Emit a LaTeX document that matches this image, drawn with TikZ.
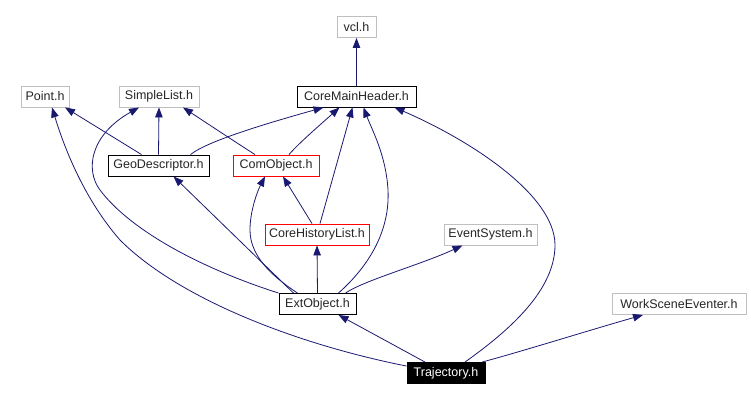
\documentclass[tikz,border=0pt]{standalone}
\usepackage{fontspec}
\setmainfont{Liberation Sans}
\usetikzlibrary{arrows.meta}
\definecolor{edgeblue}{HTML}{191970}
\definecolor{boxgray}{HTML}{BFBFBF}
\begin{document}
\begin{tikzpicture}[x=1pt,y=-1pt,
  box/.style={draw=black,line width=0.9pt,fill=white,inner sep=0pt,minimum height=21pt,
    font=\fontsize{12.5}{14}\selectfont,text=black!85},
  graybox/.style={box,draw=boxgray},
  redbox/.style={box,draw=red},
  blackbox/.style={box,fill=black,text=white},
  edge/.style={draw=edgeblue,line width=0.8pt,-{Triangle[length=10pt,width=7.5pt]}}]
\useasboundingbox (0,0) rectangle (751,401);
% nodes
\node[graybox,minimum width=39pt] (vcl) at (356.5,27) {vcl.h};
\node[graybox,minimum width=48pt] (point) at (45,96.5) {Point.h};
\node[graybox,minimum width=80pt] (sl) at (159,96.5) {SimpleList.h};
\node[box,minimum width=119pt] (cmh) at (356.5,96.5) {CoreMainHeader.h};
\node[box,minimum width=101pt] (geo) at (158.5,165.5) {GeoDescriptor.h};
\node[redbox,minimum width=86pt] (com) at (276,165.5) {ComObject.h};
\node[redbox,minimum width=104pt] (chl) at (317,234.5) {CoreHistoryList.h};
\node[graybox,minimum width=93pt] (es) at (490.5,234.5) {EventSystem.h};
\node[box,minimum width=77pt] (ext) at (317.5,304) {ExtObject.h};
\node[graybox,minimum width=134pt] (wse) at (679,304) {WorkSceneEventer.h};
\node[blackbox,minimum width=78pt] (traj) at (446,373) {Trajectory.h};
% edges
\draw[edge] (cmh.north) -- (vcl.south);
\draw[edge] ([xshift=-17pt]geo.north) -- ([xshift=20pt]point.south);
\draw[edge] (geo.north) -- (sl.south);
\draw[edge] ([xshift=32pt]geo.north) .. controls (205,143) and (250,128) .. ([xshift=-33pt]cmh.south);
\draw[edge] ([xshift=-21pt]com.north) .. controls (240,145) and (205,122) .. ([xshift=24pt]sl.south);
\draw[edge] ([xshift=13pt]com.north) .. controls (300,142) and (320,125) .. ([xshift=-17pt]cmh.south);
\draw[edge] ([xshift=-5pt]chl.north) -- ([xshift=7pt]com.south);
\draw[edge] ([xshift=3pt]chl.north) -- ([xshift=-4pt]cmh.south);
\draw[edge] (ext.north) -- (chl.south);
\draw[edge] ([xshift=-20pt]ext.north) .. controls (270,275) and (250,255) .. (250,230) .. controls (250,210) and (258,190) .. ([xshift=-11pt]com.south);
\draw[edge] ([xshift=-24pt]ext.north) -- ([xshift=15pt]geo.south);
\draw[edge] (ext.north west) .. controls (200,268) and (130,230) .. (100,190) .. controls (85,170) and (90,135) .. ([xshift=-20pt]sl.south);
\draw[edge] ([xshift=21pt]ext.north) .. controls (370,265) and (390,230) .. (388,190) .. controls (386,155) and (372,130) .. ([xshift=7pt]cmh.south);
\draw[edge] ([xshift=28pt]ext.north) .. controls (365,280) and (420,265) .. ([xshift=-28pt]es.south);
\draw[edge] ([xshift=-21pt]traj.north) -- ([xshift=21pt]ext.south);
\draw[edge] ([yshift=-4pt]traj.north west) .. controls (300,345) and (180,300) .. (120,240) .. controls (85,200) and (65,150) .. ([xshift=7pt]point.south);
\draw[edge] ([xshift=19pt]traj.north) .. controls (510,330) and (555,290) .. (555,245) .. controls (555,195) and (470,140) .. ([xshift=38pt]cmh.south);
\draw[edge] ([xshift=36pt]traj.north) .. controls (520,352) and (590,330) .. ([xshift=-36pt]wse.south);
\end{tikzpicture}
\end{document}
